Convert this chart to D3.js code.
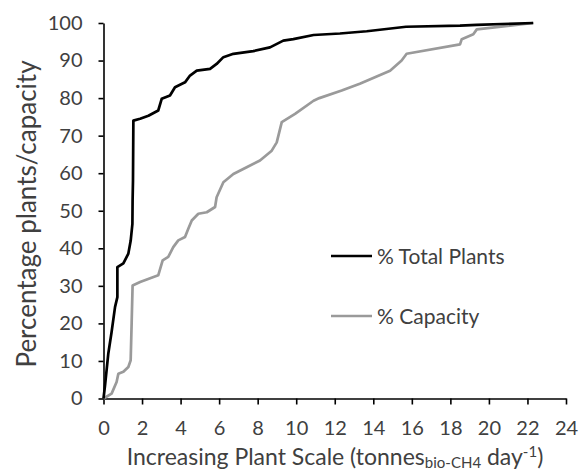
<!DOCTYPE html>
<html lang="en">
<head>
<meta charset="UTF-8">
<title>Plant scale cumulative</title>
<script src="https://cdn.jsdelivr.net/npm/d3@7"></script>
<style>
    html, body { margin: 0; background: #fff; }
    svg { display: block; }
    text { font-family: Lato, "Open Sans", sans-serif; fill: #404040; }
</style>
</head>
<body>
<div id="chart"></div>
<script>
    // plant scale (tonnes bio-CH4 / day) vs cumulative %
    const plantsX = [0, 0.08, 0.25, 0.42, 0.6, 0.72, 0.72, 1.03, 1.29, 1.41, 1.5, 1.51, 1.53, 1.55, 1.9, 2.33, 2.84, 3.02, 3.45, 3.71, 4.23, 4.49, 4.84, 5.53, 5.87, 6.22, 6.74, 7.77, 8.64, 9.33, 9.85, 10.9, 12.27, 13.66, 15.7, 18.5, 19.37, 22.3];
    const plantsY = [0, 3.5, 12, 17.7, 24.4, 27, 35, 36, 38.6, 42, 46.5, 52.7, 58, 74, 74.5, 75.3, 76.7, 79.8, 80.7, 82.9, 84.2, 86, 87.3, 87.8, 89.1, 90.9, 91.8, 92.5, 93.5, 95.3, 95.7, 96.8, 97.2, 97.8, 99, 99.3, 99.5, 100];

    const capX = [0, 0.42, 0.68, 0.77, 1.03, 1.29, 1.41, 1.46, 1.51, 1.9, 2.84, 3.07, 3.36, 3.62, 3.88, 4.23, 4.4, 4.58, 4.92, 5.36, 5.79, 5.87, 6.22, 6.74, 7.43, 8.12, 8.73, 8.99, 9.25, 9.94, 10.9, 11.2, 12.36, 13.3, 14.87, 15.47, 15.73, 18.5, 18.59, 19.19, 19.37, 22.3];
    const capY = [0, 1.3, 4.4, 6.6, 7.1, 8.4, 10.2, 20, 30.1, 31, 32.8, 36.8, 37.7, 40.3, 42.1, 43, 45.2, 47.4, 49.2, 49.6, 51, 53.6, 57.6, 59.8, 61.6, 63.4, 66, 68.2, 73.6, 75.8, 79.3, 80, 82, 83.8, 87.3, 90, 91.8, 94.3, 95.7, 97, 98.3, 100];

    const seriesNames = ["% Total Plants", "% Capacity"];
    const seriesColors = ["#000000", "#9a9a9a"];

    const xTicks = d3.range(0, 25, 2);
    const yTicks = d3.range(0, 101, 10);

    const width = 580, height = 472;
    const margin = {left: 103.5, right: 14, top: 23, bottom: 73.5};

    const x = d3.scaleLinear().domain([0, 24]).range([margin.left, width - margin.right]);
    const y = d3.scaleLinear().domain([0, 100]).range([height - margin.bottom, margin.top]);

    const svg = d3.select("#chart").append("svg")
        .attr("width", width)
        .attr("height", height);

    // axes
    const xAxis = svg.append("g")
        .attr("transform", `translate(0,${y(0)})`)
        .call(d3.axisBottom(x).tickValues(xTicks).tickSize(6).tickPadding(16).tickSizeOuter(0));
    const yAxis = svg.append("g")
        .attr("transform", `translate(${x(0)},0)`)
        .call(d3.axisLeft(y).tickValues(yTicks).tickSize(5).tickPadding(16).tickSizeOuter(0));

    [xAxis, yAxis].forEach(g => {
        g.select(".domain").attr("stroke", "#000").attr("stroke-width", 1.6);
        g.selectAll(".tick line").attr("stroke", "#000").attr("stroke-width", 1.6);
        g.selectAll(".tick text").attr("font-size", 20).attr("fill", "#404040")
            .style("font-family", "Lato, 'Open Sans', sans-serif");
    });

    // lines
    const line = d3.line().x(d => x(d[0])).y(d => y(d[1]));
    const series = [
        d3.zip(plantsX, plantsY),
        d3.zip(capX, capY)
    ];
    // capacity drawn first so total plants sits on top
    [1, 0].forEach(i => {
        svg.append("path")
            .datum(series[i])
            .attr("fill", "none")
            .attr("stroke", seriesColors[i])
            .attr("stroke-width", 2.7)
            .attr("stroke-linejoin", "round")
            .attr("d", line);
    });

    // legend
    const legendY = [256, 316];
    seriesNames.forEach((name, i) => {
        svg.append("line")
            .attr("x1", 331).attr("x2", 372)
            .attr("y1", legendY[i]).attr("y2", legendY[i])
            .attr("stroke", seriesColors[i])
            .attr("stroke-width", 2.7);
        svg.append("text")
            .attr("x", 377).attr("y", legendY[i])
            .attr("dy", "0.36em")
            .attr("font-size", 21)
            .text(name);
    });

    // axis titles
    const xTitle = svg.append("text")
        .attr("x", 335)
        .attr("y", 465)
        .attr("text-anchor", "middle")
        .attr("font-size", 23);
    xTitle.append("tspan").text("Increasing Plant Scale (tonnes");
    xTitle.append("tspan").attr("font-size", 15).attr("dy", 3).text("bio-CH");
    xTitle.append("tspan").attr("font-size", 15).text("4");
    xTitle.append("tspan").attr("dy", -3).text(" day");
    xTitle.append("tspan").attr("font-size", 15).attr("dy", -8).text("-1");
    xTitle.append("tspan").attr("dy", 8).text(")");

    svg.append("text")
        .attr("transform", `translate(36,214) rotate(-90)`)
        .attr("text-anchor", "middle")
        .attr("font-size", 26)
        .text("Percentage plants/capacity");
</script>
</body>
</html>
